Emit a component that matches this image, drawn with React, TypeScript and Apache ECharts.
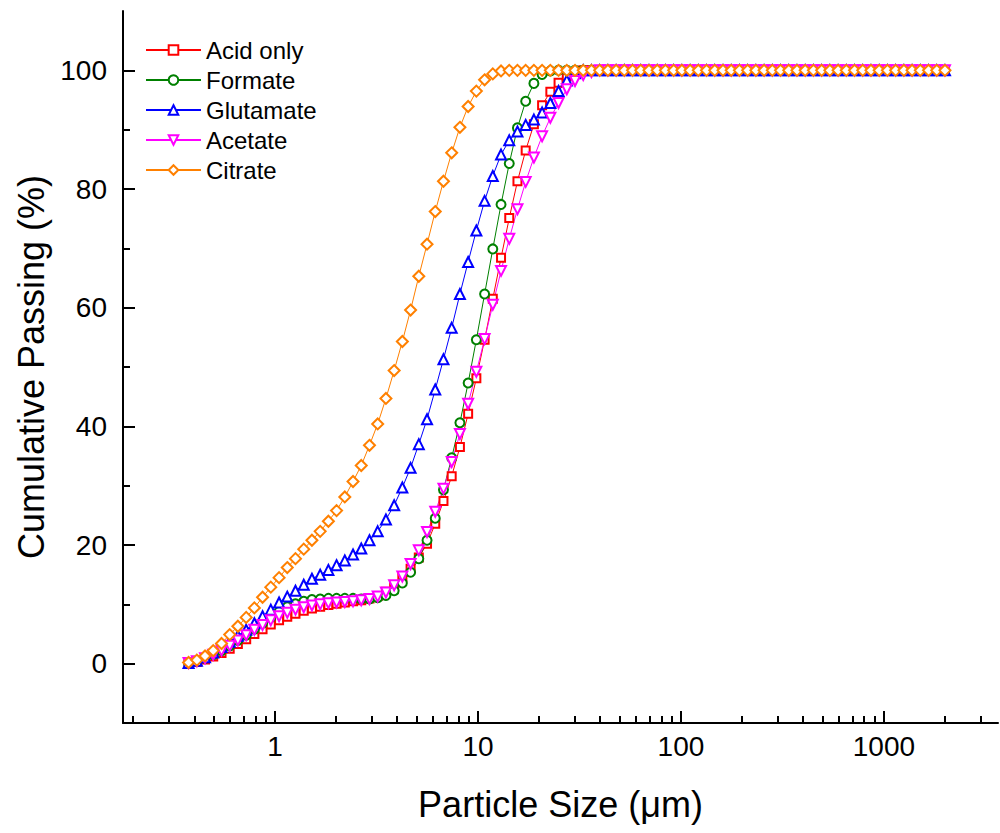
import React, { useEffect, useRef } from "react";
import * as echarts from "echarts";

// Particle size classes (µm)
const sizes = [
  0.375, 0.412, 0.452, 0.496, 0.545, 0.598, 0.656, 0.721, 0.791, 0.868,
  0.953, 1.047, 1.149, 1.261, 1.385, 1.52, 1.669, 1.832, 2.01, 2.207,
  2.423, 2.66, 2.92, 3.205, 3.519, 3.863, 4.24, 4.655, 5.11, 5.61,
  6.158, 6.76, 7.421, 8.147, 8.943, 9.817, 10.78, 11.83, 12.99, 14.26,
  15.65, 17.18, 18.86, 20.7, 22.73, 24.95, 27.39, 30.07, 33.01, 36.24,
  39.78, 43.67, 47.94, 52.62, 57.77, 63.41, 69.61, 76.42, 83.89, 92.09,
  101.1, 111.0, 121.8, 133.7, 146.8, 161.2, 176.9, 194.2, 213.2, 234.1,
  256.9, 282.1, 309.6, 339.9, 373.1, 409.6, 449.7, 493.6, 541.9, 594.9,
  653.0, 716.9, 786.9, 863.9, 948.3, 1041, 1143, 1255, 1377, 1512,
  1660, 1822, 2000,
];

const acidOnly = [
  0.0, 0.3, 0.7, 1.2, 1.8, 2.5, 3.3, 4.1, 5.0, 5.8,
  6.6, 7.3, 7.9, 8.4, 8.9, 9.3, 9.6, 9.9, 10.1, 10.3,
  10.5, 10.7, 11.0, 11.4, 12.1, 13.2, 14.6, 16.0, 17.9, 20.2,
  23.6, 27.4, 31.6, 36.5, 42.1, 48.1, 54.6, 61.5, 68.4, 75.1,
  81.3, 86.5, 90.9, 94.1, 96.4, 97.9, 99.0, 99.7, 100, 100,
  100, 100, 100, 100, 100, 100, 100, 100, 100, 100,
  100, 100, 100, 100, 100, 100, 100, 100, 100, 100,
  100, 100, 100, 100, 100, 100, 100, 100, 100, 100,
  100, 100, 100, 100, 100, 100, 100, 100, 100, 100,
  100, 100, 100,
];

const formate = [
  0.1, 0.4, 0.9, 1.5, 2.2, 3.0, 3.9, 4.8, 5.8, 6.8,
  7.8, 8.8, 9.6, 10.1, 10.5, 10.8, 10.9, 11.0, 11.0, 11.0,
  11.0, 10.9, 10.9, 11.1, 11.5, 12.3, 13.6, 15.4, 17.7, 20.8,
  24.5, 29.3, 34.7, 40.6, 47.3, 54.6, 62.3, 69.9, 77.4, 84.3,
  90.3, 94.8, 97.8, 99.3, 99.9, 100, 100, 100, 100, 100,
  100, 100, 100, 100, 100, 100, 100, 100, 100, 100,
  100, 100, 100, 100, 100, 100, 100, 100, 100, 100,
  100, 100, 100, 100, 100, 100, 100, 100, 100, 100,
  100, 100, 100, 100, 100, 100, 100, 100, 100, 100,
  100, 100, 100,
];

const glutamate = [
  0.1, 0.5, 1.1, 1.9, 2.8, 3.7, 4.7, 5.7, 6.8, 8.0,
  9.1, 10.3, 11.3, 12.3, 13.3, 14.3, 15.0, 15.8, 16.6, 17.4,
  18.4, 19.4, 20.8, 22.3, 24.3, 26.7, 29.7, 33.0, 37.0, 41.2,
  46.2, 51.3, 56.6, 62.3, 67.7, 73.0, 78.0, 82.2, 85.8, 88.2,
  89.7, 90.8, 91.7, 92.9, 94.5, 96.5, 98.3, 99.5, 100, 100,
  100, 100, 100, 100, 100, 100, 100, 100, 100, 100,
  100, 100, 100, 100, 100, 100, 100, 100, 100, 100,
  100, 100, 100, 100, 100, 100, 100, 100, 100, 100,
  100, 100, 100, 100, 100, 100, 100, 100, 100, 100,
  100, 100, 100,
];

const acetate = [
  0.1, 0.4, 0.9, 1.5, 2.2, 3.0, 3.9, 4.8, 5.7, 6.5,
  7.3, 8.0, 8.6, 9.1, 9.5, 9.8, 10.0, 10.2, 10.3, 10.4,
  10.5, 10.7, 10.9, 11.3, 12.0, 13.2, 14.7, 16.8, 19.1, 22.2,
  25.6, 29.5, 34.0, 38.7, 43.8, 49.2, 54.7, 60.5, 66.2, 71.6,
  76.6, 81.2, 85.3, 88.9, 92.0, 94.5, 96.8, 98.2, 99.2, 99.7,
  100, 100, 100, 100, 100, 100, 100, 100, 100, 100,
  100, 100, 100, 100, 100, 100, 100, 100, 100, 100,
  100, 100, 100, 100, 100, 100, 100, 100, 100, 100,
  100, 100, 100, 100, 100, 100, 100, 100, 100, 100,
  100, 100, 100,
];

const citrate = [
  0.2, 0.6, 1.3, 2.2, 3.4, 4.9, 6.3, 7.8, 9.4, 11.2,
  12.9, 14.5, 16.2, 17.7, 19.3, 20.8, 22.3, 24.0, 25.8, 28.1,
  30.7, 33.4, 36.8, 40.4, 44.7, 49.4, 54.3, 59.6, 65.3, 70.7,
  76.2, 81.3, 86.1, 90.4, 93.9, 96.5, 98.4, 99.4, 99.9, 100,
  100, 100, 100, 100, 100, 100, 100, 100, 100, 100,
  100, 100, 100, 100, 100, 100, 100, 100, 100, 100,
  100, 100, 100, 100, 100, 100, 100, 100, 100, 100,
  100, 100, 100, 100, 100, 100, 100, 100, 100, 100,
  100, 100, 100, 100, 100, 100, 100, 100, 100, 100,
  100, 100, 100,
];

// Axis ticks
const xMajorTicks = [1, 10, 100, 1000];
const xMinorTicks = [
  0.2, 0.3, 0.4, 0.5, 0.6, 0.7, 0.8, 0.9,
  2, 3, 4, 5, 6, 7, 8, 9,
  20, 30, 40, 50, 60, 70, 80, 90,
  200, 300, 400, 500, 600, 700, 800, 900,
  2000, 3000,
];
const yMajorTicks = [0, 20, 40, 60, 80, 100];
const yMinorTicks = [10, 30, 50, 70, 90];
const xRange = [0.1782, 3650];
const yRange = [-10, 110];

const seriesDefs = [
  { name: "Acid only", data: acidOnly, color: "#FF0000", symbol: "rect", size: 8, rotate: 0 },
  { name: "Formate", data: formate, color: "#008000", symbol: "circle", size: 9, rotate: 0 },
  { name: "Glutamate", data: glutamate, color: "#0000FF", symbol: "triangle", size: 10, rotate: 0 },
  { name: "Acetate", data: acetate, color: "#FF00FF", symbol: "triangle", size: 10, rotate: 180 },
  { name: "Citrate", data: citrate, color: "#FF8000", symbol: "diamond", size: 11, rotate: 0 },
];

const FONT = "'Liberation Sans', Arial, sans-serif";

export default function App() {
  const ref = useRef<HTMLDivElement>(null);

  useEffect(() => {
    if (!ref.current) return;
    const chart = echarts.init(ref.current, null, { renderer: "svg" });
    const lg = (v: number) => Math.log10(v);
    const xMin = lg(xRange[0]);
    const xMax = lg(xRange[1]);

    const axisLineStyle = { color: "#000", width: 2 };

    const option: any = {
      animation: false,
      backgroundColor: "#fff",
      textStyle: { fontFamily: FONT },
      grid: { left: 123, right: 2, top: 11, bottom: 110, containLabel: false },
      legend: {
        orient: "vertical",
        left: 140,
        top: 33,
        itemWidth: 55,
        itemHeight: 12,
        itemGap: 6,
        textStyle: { fontSize: 24, color: "#000", fontFamily: FONT },
        data: seriesDefs.map((s) => s.name),
      },
      xAxis: [
        {
          type: "value",
          min: xMin,
          max: xMax,
          name: "Particle Size (μm)",
          nameLocation: "middle",
          nameGap: 63,
          nameTextStyle: { fontSize: 36, color: "#000", fontFamily: FONT },
          axisLine: { show: true, onZero: false, lineStyle: axisLineStyle },
          axisTick: {
            show: true,
            inside: true,
            length: 12,
            lineStyle: { color: "#000", width: 2 },
            customValues: xMajorTicks.map(lg),
          },
          axisLabel: {
            show: true,
            fontSize: 28,
            color: "#000",
            margin: 9,
            fontFamily: FONT,
            customValues: xMajorTicks.map(lg),
            formatter: (v: number) => String(Math.round(Math.pow(10, v))),
          },
          splitLine: { show: false },
        },
        {
          type: "value",
          position: "bottom",
          min: xMin,
          max: xMax,
          axisLine: { show: false, onZero: false },
          axisTick: {
            show: true,
            inside: true,
            length: 7,
            lineStyle: { color: "#000", width: 2 },
            customValues: xMinorTicks.map(lg),
          },
          axisLabel: { show: false },
          splitLine: { show: false },
        },
      ],
      yAxis: [
        {
          type: "value",
          min: yRange[0],
          max: yRange[1],
          name: "Cumulative Passing (%)",
          nameLocation: "middle",
          nameGap: 65,
          nameTextStyle: { fontSize: 36, color: "#000", fontFamily: FONT },
          axisLine: { show: true, onZero: false, lineStyle: axisLineStyle },
          axisTick: {
            show: true,
            inside: true,
            length: 12,
            lineStyle: { color: "#000", width: 2 },
            customValues: yMajorTicks,
          },
          axisLabel: {
            show: true,
            fontSize: 28,
            color: "#000",
            margin: 16,
            fontFamily: FONT,
            customValues: yMajorTicks,
          },
          splitLine: { show: false },
        },
        {
          type: "value",
          position: "left",
          min: yRange[0],
          max: yRange[1],
          axisLine: { show: false, onZero: false },
          axisTick: {
            show: true,
            inside: true,
            length: 7,
            lineStyle: { color: "#000", width: 2 },
            customValues: yMinorTicks,
          },
          axisLabel: { show: false },
          splitLine: { show: false },
        },
      ],
      series: seriesDefs.map((s) => ({
        name: s.name,
        type: "line",
        xAxisIndex: 0,
        yAxisIndex: 0,
        color: s.color,
        symbol: s.symbol,
        symbolSize: s.size,
        symbolRotate: s.rotate,
        showAllSymbol: true,
        showSymbol: true,
        lineStyle: { color: s.color, width: 1 },
        itemStyle: { color: "#fff", borderColor: s.color, borderWidth: 2 },
        emphasis: { disabled: true },
        data: sizes.map((x, i) => [lg(x), s.data[i]]),
      })),
    };

    chart.setOption(option);
    return () => chart.dispose();
  }, []);

  return (
    <div
      ref={ref}
      style={{ position: "fixed", left: 0, top: 0, width: 1000, height: 833, background: "#fff" }}
    />
  );
}
